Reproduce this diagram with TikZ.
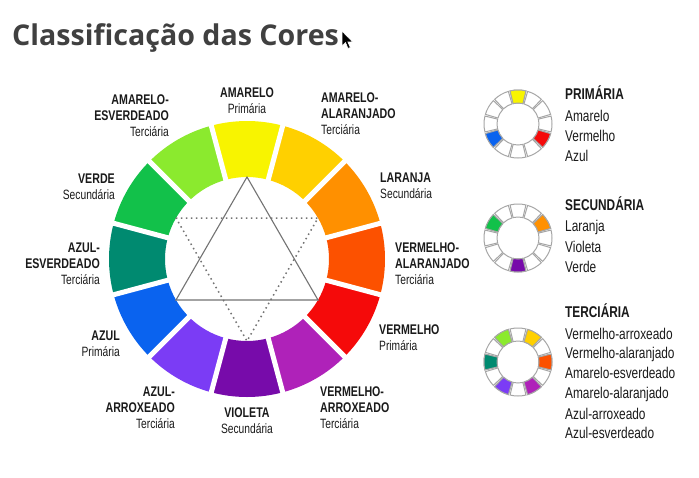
\documentclass[tikz,border=0pt]{standalone}
\usepackage{fontspec}
\newfontfamily\cond[FakeStretch=0.76]{Liberation Sans}
\newfontfamily\titlefont{Open Sans}
\definecolor{cY}{HTML}{F8F400}
\definecolor{cYG}{HTML}{8BEA2E}
\definecolor{cG}{HTML}{12C14A}
\definecolor{cT}{HTML}{008A70}
\definecolor{cB}{HTML}{0A63EF}
\definecolor{cBV}{HTML}{7B3CF5}
\definecolor{cV}{HTML}{770BAA}
\definecolor{cRV}{HTML}{AF22B9}
\definecolor{cR}{HTML}{F50A0A}
\definecolor{cRO}{HTML}{FC5100}
\definecolor{cO}{HTML}{FF9000}
\definecolor{cYO}{HTML}{FFD000}
\definecolor{titlegray}{HTML}{404040}
\definecolor{txt}{HTML}{1A1A1A}
\newcommand\lbHead[1]{\textbf{#1}}
\newcommand\lbSub[1]{{\fontsize{13.5}{16}\selectfont #1}}
\tikzset{
  lab/.style={inner sep=0pt, text=txt, font=\cond\fontsize{14}{16}\selectfont},
  legtxt/.style={inner sep=0pt, anchor=base west, text=txt, font=\cond\fontsize{15.6}{18}\selectfont},
  smallseg/.style={draw=black!35, line width=1pt},
}
\begin{document}
\begin{tikzpicture}[x=1pt,y=1pt]
\useasboundingbox (0,0) rectangle (699,-477);
\fill[white] (0,0) rectangle (699,-477);

% title
\node[anchor=base west, inner sep=0pt, text=titlegray, font=\titlefont\bfseries\fontsize{28.6}{32}\selectfont] (title) at (12,-45) {Classificação das Cores};
% mouse cursor
\filldraw[fill=black, draw=white, line width=0.6pt] (342,-31) -- (342,-46) -- (345.5,-42.5) -- (348,-48.5) -- (350.3,-47.5) -- (347.8,-41.8) -- (352.5,-41.8) -- cycle;

% main wheel
\begin{scope}[shift={(247,-259)}]
  \foreach \a/\c in {90/cY,120/cYG,150/cG,180/cT,210/cB,240/cBV,270/cV,300/cRV,330/cR,360/cRO,30/cO,60/cYO}
  {
    \pgfmathsetmacro\s{\a-15}
    \pgfmathsetmacro\e{\a+15}
    \fill[\c] (\s:138) arc[start angle=\s, end angle=\e, radius=138] -- (\e:82) arc[start angle=\e, end angle=\s, radius=82] -- cycle;
  }
  \foreach \a in {15,45,...,345}
    \draw[white, line width=5pt] (\a:76) -- (\a:144);
  \coordinate (t1) at (90:82);
  \coordinate (t2) at (210:82);
  \coordinate (t3) at (330:82);
  \coordinate (d1) at (150:82);
  \coordinate (d2) at (30:82);
  \coordinate (d3) at (270:82);
  \draw[black!55, line width=1.1pt] (t1) -- (t2) -- (t3) -- cycle;
  \draw[black!55, line width=1.5pt, dash pattern=on 1.5pt off 3.5pt] (d1) -- (d2) -- (d3) -- cycle;
\end{scope}

% main labels
\node[lab, align=center] (lY) at (247,-101) {\lbHead{AMARELO}\\\lbSub{Primária}};
\node[lab, align=right, anchor=east] (lYG) at (169,-116) {\lbHead{AMARELO-}\\\lbHead{ESVERDEADO}\\\lbSub{Terciária}};
\node[lab, align=left, anchor=west] (lYO) at (321,-114) {\lbHead{AMARELO-}\\\lbHead{ALARANJADO}\\\lbSub{Terciária}};
\node[lab, align=right, anchor=east] (lG) at (115,-187) {\lbHead{VERDE}\\\lbSub{Secundária}};
\node[lab, align=left, anchor=west] (lO) at (380,-186) {\lbHead{LARANJA}\\\lbSub{Secundária}};
\node[lab, align=right, anchor=east] (lT) at (100,-264) {\lbHead{AZUL-}\\\lbHead{ESVERDEADO}\\\lbSub{Terciária}};
\node[lab, align=left, anchor=west] (lRO) at (395,-264) {\lbHead{VERMELHO-}\\\lbHead{ALARANJADO}\\\lbSub{Terciária}};
\node[lab, align=right, anchor=east] (lB) at (120,-344) {\lbHead{AZUL}\\\lbSub{Primária}};
\node[lab, align=left, anchor=west] (lR) at (379,-338) {\lbHead{VERMELHO}\\\lbSub{Primária}};
\node[lab, align=right, anchor=east] (lBV) at (175,-408) {\lbHead{AZUL-}\\\lbHead{ARROXEADO}\\\lbSub{Terciária}};
\node[lab, align=center] (lV) at (247,-421) {\lbHead{VIOLETA}\\\lbSub{Secundária}};
\node[lab, align=left, anchor=west] (lRV) at (320,-408) {\lbHead{VERMELHO-}\\\lbHead{ARROXEADO}\\\lbSub{Terciária}};

% legend wheels
\foreach \cy/\cols in {-124/{90/cY,210/cB,330/cR}, -238/{150/cG,30/cO,270/cV}, -362/{120/cYG,60/cYO,0/cRO,180/cT,240/cBV,300/cRV}}
{
  \begin{scope}[shift={(518,\cy)}]
    \foreach \a in {0,30,...,330}
    {
      \pgfmathsetmacro\s{\a-13.5}
      \pgfmathsetmacro\e{\a+13.5}
      \filldraw[smallseg, fill=white] (\s:34) arc[start angle=\s, end angle=\e, radius=34] -- (\e:21) arc[start angle=\e, end angle=\s, radius=21] -- cycle;
    }
    \foreach \a/\c in \cols
    {
      \pgfmathsetmacro\s{\a-13.5}
      \pgfmathsetmacro\e{\a+13.5}
      \filldraw[smallseg, fill=\c] (\s:34) arc[start angle=\s, end angle=\e, radius=34] -- (\e:21) arc[start angle=\e, end angle=\s, radius=21] -- cycle;
    }
  \end{scope}
}

% legend texts
\node[legtxt] (hP) at (565,-99.5) {\textbf{PRIMÁRIA}};
\node[legtxt] (p1) at (565,-121.5) {Amarelo};
\node[legtxt] (p2) at (565,-141.5) {Vermelho};
\node[legtxt] (p3) at (565,-161.5) {Azul};
\node[legtxt] (hS) at (565,-210.5) {\textbf{SECUNDÁRIA}};
\node[legtxt] (s1) at (565,-231.5) {Laranja};
\node[legtxt] (s2) at (565,-252.5) {Violeta};
\node[legtxt] (s3) at (565,-272.5) {Verde};
\node[legtxt] (hT) at (565,-317.5) {\textbf{TERCIÁRIA}};
\node[legtxt] (q1) at (565,-339.5) {Vermelho-arroxeado};
\node[legtxt] (q2) at (565,-358.5) {Vermelho-alaranjado};
\node[legtxt] (q3) at (565,-378.5) {Amarelo-esverdeado};
\node[legtxt] (q4) at (565,-398.5) {Amarelo-alaranjado};
\node[legtxt] (q5) at (565,-419.5) {Azul-arroxeado};
\node[legtxt] (q6) at (565,-438.5) {Azul-esverdeado};
\end{tikzpicture}
\end{document}
